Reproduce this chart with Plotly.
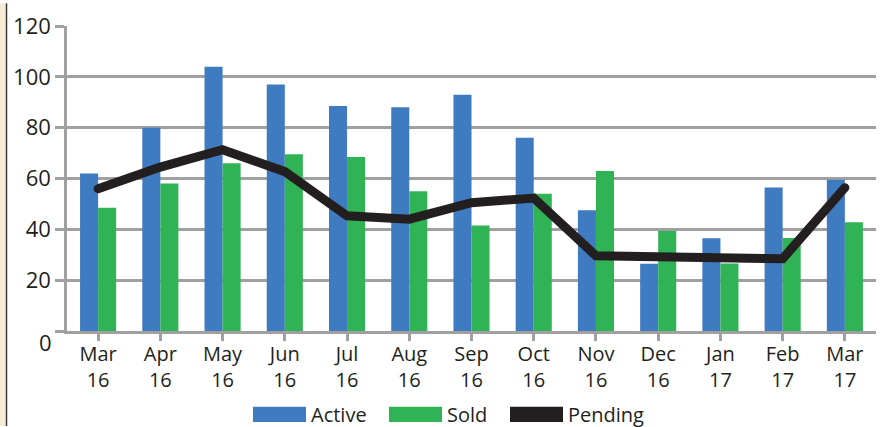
import plotly.graph_objects as go

months = ["Mar<br>16", "Apr<br>16", "May<br>16", "Jun<br>16", "Jul<br>16", "Aug<br>16",
          "Sep<br>16", "Oct<br>16", "Nov<br>16", "Dec<br>16", "Jan<br>17", "Feb<br>17", "Mar<br>17"]
active = [62, 80, 104, 97, 88.5, 88, 93, 76, 47.5, 26.5, 36.5, 56.5, 59.5]
sold = [48.5, 58, 66, 69.5, 68.5, 55, 41.5, 54, 63, 39.3, 26.6, 36.6, 42.8]
pending = [56, 64.5, 71.3, 62.7, 45.3, 44, 50.5, 52.3, 29.6, 29.2, 28.8, 28.4, 56.4]
ytick_vals = [0, 20, 40, 60, 80, 100, 120]
ytick_text = ["", "20", "40", "60", "80", "100", "120"]
legend_names = ["Active", "Sold", "Pending"]

BLUE = "#3F7BC0"
GREEN = "#30B355"
BLACK = "#231F20"
GRID = "#A0A0A0"
FONT = "Open Sans"

W, H = 886, 427
ML, MR, MT, MB = 67, 10, 23, 96
PW, PH = W - ML - MR, H - MT - MB


def px(x):
    return (x - ML) / PW


def py(y):
    return (H - MB - y) / PH


x_idx = list(range(len(months)))

fig = go.Figure()
fig.add_trace(go.Bar(x=x_idx, y=active, name="Active", marker=dict(color=BLUE, line=dict(width=0))))
fig.add_trace(go.Bar(x=x_idx, y=sold, name="Sold", marker=dict(color=GREEN, line=dict(width=0))))
fig.add_trace(go.Scatter(x=x_idx, y=pending, name="Pending", mode="lines",
                         line=dict(color=BLACK, width=9)))

shapes = []
annotations = []

# left decorative border
shapes.append(dict(type="rect", xref="paper", yref="paper", x0=px(0), x1=px(6), y0=py(H), y1=py(0),
                   fillcolor="#F8ECD4", line=dict(width=0), layer="below"))
shapes.append(dict(type="line", xref="paper", yref="paper", x0=px(6.5), x1=px(6.5), y0=py(H), y1=py(0),
                   line=dict(color="#3A3A3A", width=1.5)))

# custom legend
leg_colors = [BLUE, GREEN, BLACK]
sw_x = [253, 389, 510]
for name, col, x0 in zip(legend_names, leg_colors, sw_x):
    shapes.append(dict(type="rect", xref="paper", yref="paper", x0=px(x0), x1=px(x0 + 53),
                       y0=py(423), y1=py(407.5), fillcolor=col, line=dict(width=0)))
    annotations.append(dict(text=name, xref="paper", yref="paper", x=px(x0 + 56), y=py(415),
                            xanchor="left", yanchor="middle", showarrow=False,
                            font=dict(family=FONT, size=20, color=BLACK)))

# offset zero label as in reference
annotations.append(dict(text="0", xref="paper", yref="y", x=px(54), y=0, yshift=-11,
                        xanchor="right", yanchor="middle", showarrow=False,
                        font=dict(family=FONT, size=22, color=BLACK)))

fig.update_layout(
    width=W, height=H,
    margin=dict(l=ML, r=MR, t=MT, b=MB),
    paper_bgcolor="white", plot_bgcolor="white",
    barmode="group", bargap=0.42, bargroupgap=0,
    showlegend=False,
    font=dict(family=FONT, color=BLACK),
    shapes=shapes,
    annotations=annotations,
    xaxis=dict(
        tickmode="array", tickvals=x_idx, ticktext=months,
        range=[-0.5, len(months) - 0.5],
        tickson="boundaries", ticks="outside", ticklen=7, tickwidth=2.5, tickcolor=GRID,
        showline=True, linecolor=GRID, linewidth=2.5,
        showgrid=False, zeroline=False,
        ticklabelstandoff=-4,
        tickfont=dict(family=FONT, size=20, color=BLACK),
    ),
    yaxis=dict(
        range=[0, 120], tickmode="array", tickvals=ytick_vals, ticktext=ytick_text,
        ticks="outside", ticklen=9, tickwidth=2.5, tickcolor=GRID,
        showline=True, linecolor=GRID, linewidth=2.5,
        showgrid=True, gridcolor=GRID, gridwidth=2.5,
        zeroline=False,
        tickfont=dict(family=FONT, size=22, color=BLACK),
    ),
)

fig.write_html(
    "out.html",
    config={"displayModeBar": False},
    post_script=(
        "document.body.style.margin='0';document.body.style.overflow='hidden';"
        "document.querySelectorAll('.scatterlayer .js-line').forEach(function(p){p.style.strokeLinecap='round';});"
    ),
)
